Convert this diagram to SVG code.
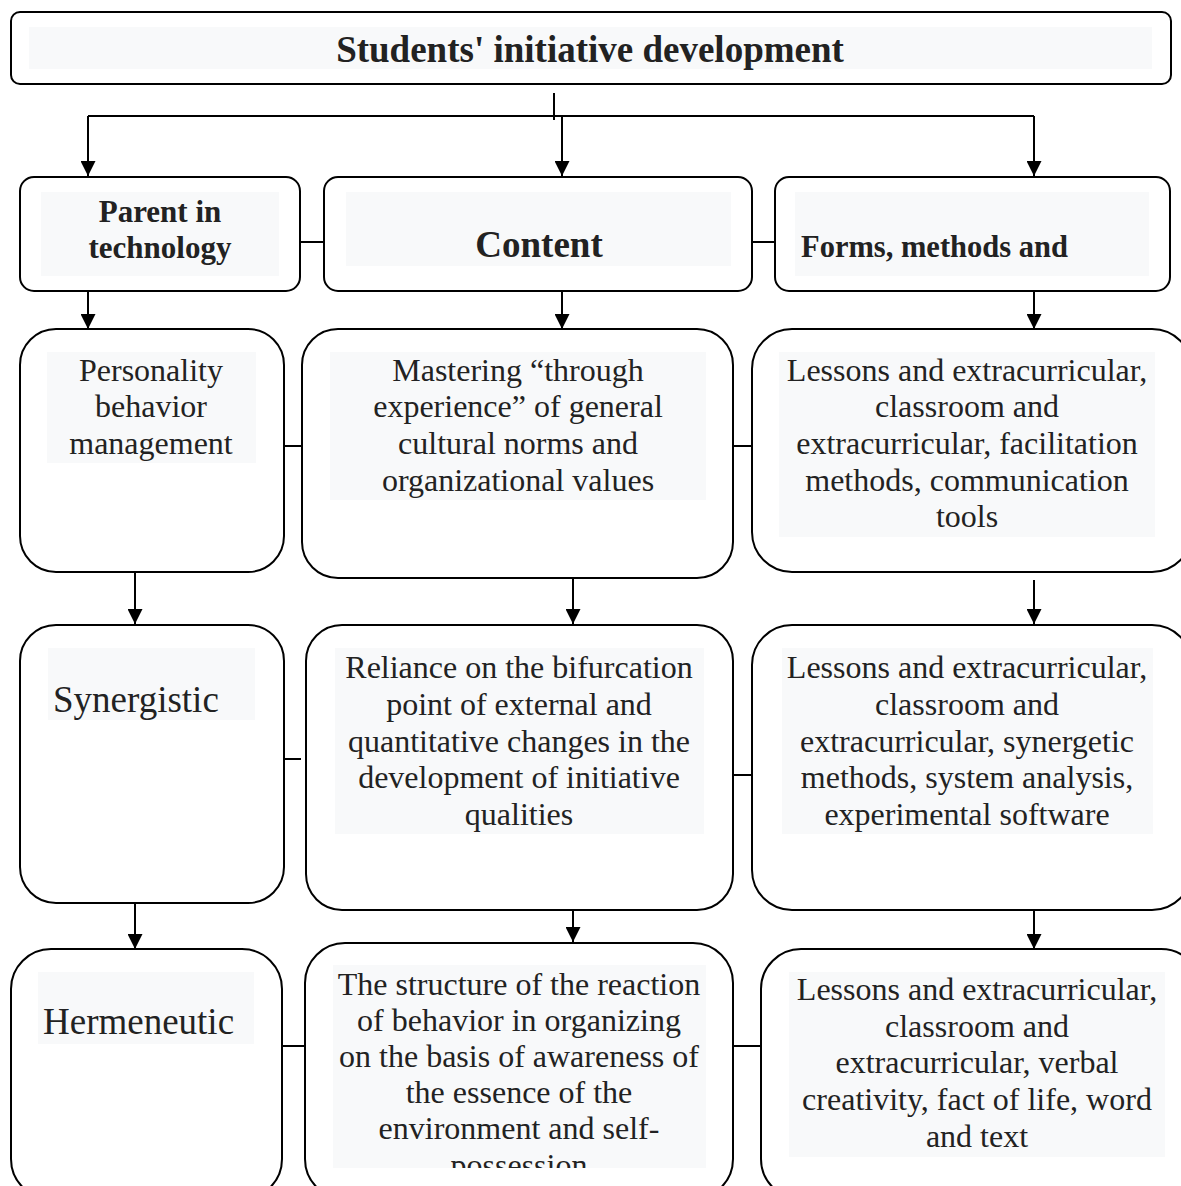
<svg xmlns="http://www.w3.org/2000/svg" width="1181" height="1186" viewBox="0 0 1181 1186">
<style>
.box{fill:#fff;stroke:#000;stroke-width:2}
.hl{fill:#f8f9fa}
.t{font-family:"Liberation Serif","Times New Roman",serif;fill:#222}
.r{font-size:32px}
.b{font-weight:bold}
.c{text-anchor:middle}
.ln{stroke:#000;stroke-width:2;fill:none}
</style>
<defs>
<marker id="ah" markerUnits="userSpaceOnUse" markerWidth="15" markerHeight="15" refX="15" refY="7.5" orient="auto">
<path d="M0,0 L15,7.5 L0,15 z" fill="#000"/>
</marker>
<clipPath id="clipB4"><rect x="333" y="965" width="373" height="203"/></clipPath>
</defs>
<rect width="1181" height="1186" fill="#fff"/>

<g id="title">
<rect class="box" x="11" y="12" width="1160" height="72" rx="9"/>
<rect class="hl" x="29" y="27" width="1123" height="42"/>
<text class="t b c" x="590" y="62" font-size="37">Students' initiative development</text>
</g>

<g id="connectors">
<line class="ln" x1="554" y1="93" x2="554" y2="120"/>
<polyline class="ln" points="88,116 1034,116"/>
<line class="ln" x1="88" y1="116" x2="88" y2="176" marker-end="url(#ah)"/>
<line class="ln" x1="562" y1="116" x2="562" y2="176" marker-end="url(#ah)"/>
<line class="ln" x1="1034" y1="116" x2="1034" y2="176" marker-end="url(#ah)"/>
<line class="ln" x1="300" y1="242" x2="324" y2="242"/>
<line class="ln" x1="752" y1="242" x2="775" y2="242"/>
<line class="ln" x1="88" y1="291" x2="88" y2="329" marker-end="url(#ah)"/>
<line class="ln" x1="562" y1="291" x2="562" y2="329" marker-end="url(#ah)"/>
<line class="ln" x1="1034" y1="291" x2="1034" y2="329" marker-end="url(#ah)"/>
<line class="ln" x1="282" y1="446" x2="302" y2="446"/>
<line class="ln" x1="733" y1="446" x2="752" y2="446"/>
<line class="ln" x1="135" y1="570" x2="135" y2="624" marker-end="url(#ah)"/>
<line class="ln" x1="573" y1="578" x2="573" y2="624" marker-end="url(#ah)"/>
<line class="ln" x1="1034" y1="580" x2="1034" y2="624" marker-end="url(#ah)"/>
<line class="ln" x1="279" y1="759" x2="301" y2="759"/>
<line class="ln" x1="733" y1="775" x2="752" y2="775"/>
<line class="ln" x1="135" y1="903" x2="135" y2="949" marker-end="url(#ah)"/>
<line class="ln" x1="573" y1="910" x2="573" y2="942" marker-end="url(#ah)"/>
<line class="ln" x1="1034" y1="910" x2="1034" y2="949" marker-end="url(#ah)"/>
<line class="ln" x1="282" y1="1046" x2="305" y2="1046"/>
<line class="ln" x1="733" y1="1046" x2="761" y2="1046"/>
</g>

<g id="n-parent">
<rect class="box" x="20" y="177" width="280" height="114" rx="14"/>
<rect class="hl" x="41" y="192" width="238" height="84"/>
<text class="t b c" font-size="31" x="160" y="222">Parent in</text>
<text class="t b c" font-size="31" x="160" y="258">technology</text>
</g>
<g id="n-content">
<rect class="box" x="324" y="177" width="428" height="114" rx="14"/>
<rect class="hl" x="346" y="192" width="385" height="74"/>
<text class="t b c" font-size="37" x="539" y="257">Content</text>
</g>
<g id="n-forms">
<rect class="box" x="775" y="177" width="395" height="114" rx="14"/>
<rect class="hl" x="795" y="192" width="354" height="84"/>
<text class="t b" font-size="30.5" x="801" y="257">Forms, methods and</text>
</g>

<g id="n-personality">
<rect class="box" x="20" y="329" width="264" height="243" rx="36"/>
<rect class="hl" x="47" y="352" width="209" height="111"/>
<text class="t r c" x="151" y="381">Personality</text>
<text class="t r c" x="151" y="417">behavior</text>
<text class="t r c" x="151" y="454">management</text>
</g>
<g id="n-mastering">
<rect class="box" x="302" y="329" width="431" height="249" rx="36"/>
<rect class="hl" x="330" y="352" width="376" height="148"/>
<text class="t r c" x="518" y="381">Mastering “through</text>
<text class="t r c" x="518" y="417">experience” of general</text>
<text class="t r c" x="518" y="454">cultural norms and</text>
<text class="t r c" x="518" y="491">organizational values</text>
</g>
<g id="n-lessons1">
<rect class="box" x="752" y="329" width="440" height="243" rx="40"/>
<rect class="hl" x="779" y="352" width="376" height="185"/>
<text class="t r c" x="967" y="381">Lessons and extracurricular,</text>
<text class="t r c" x="967" y="417">classroom and</text>
<text class="t r c" x="967" y="454">extracurricular, facilitation</text>
<text class="t r c" x="967" y="491">methods, communication</text>
<text class="t r c" x="967" y="527">tools</text>
</g>

<g id="n-synergistic">
<rect class="box" x="20" y="625" width="264" height="278" rx="36"/>
<rect class="hl" x="48" y="648" width="207" height="72"/>
<text class="t" font-size="37" x="53" y="712">Synergistic</text>
</g>
<g id="n-reliance">
<rect class="box" x="306" y="625" width="427" height="285" rx="36"/>
<rect class="hl" x="335" y="648" width="369" height="186"/>
<text class="t r c" x="519" y="678">Reliance on the bifurcation</text>
<text class="t r c" x="519" y="715">point of external and</text>
<text class="t r c" x="519" y="752">quantitative changes in the</text>
<text class="t r c" x="519" y="788">development of initiative</text>
<text class="t r c" x="519" y="825">qualities</text>
</g>
<g id="n-lessons2">
<rect class="box" x="752" y="625" width="440" height="285" rx="40"/>
<rect class="hl" x="782" y="648" width="371" height="186"/>
<text class="t r c" x="967" y="678">Lessons and extracurricular,</text>
<text class="t r c" x="967" y="715">classroom and</text>
<text class="t r c" x="967" y="752">extracurricular, synergetic</text>
<text class="t r c" x="967" y="788">methods, system analysis,</text>
<text class="t r c" x="967" y="825">experimental software</text>
</g>

<g id="n-hermeneutic">
<rect class="box" x="11" y="949" width="271" height="250" rx="40"/>
<rect class="hl" x="38" y="972" width="216" height="72"/>
<text class="t" font-size="37" x="43" y="1034">Hermeneutic</text>
</g>
<g id="n-structure">
<rect class="box" x="305" y="943" width="428" height="256" rx="40"/>
<rect class="hl" x="333" y="965" width="373" height="203"/>
<g clip-path="url(#clipB4)">
<text class="t r c" x="519" y="995">The structure of the reaction</text>
<text class="t r c" x="519" y="1031">of behavior in organizing</text>
<text class="t r c" x="519" y="1067">on the basis of awareness of</text>
<text class="t r c" x="519" y="1103">the essence of the</text>
<text class="t r c" x="519" y="1139">environment and self-</text>
<text class="t r c" x="519" y="1176">possession</text>
</g>
</g>
<g id="n-lessons3">
<rect class="box" x="761" y="949" width="440" height="250" rx="40"/>
<rect class="hl" x="789" y="972" width="376" height="185"/>
<text class="t r c" x="977" y="1000">Lessons and extracurricular,</text>
<text class="t r c" x="977" y="1037">classroom and</text>
<text class="t r c" x="977" y="1073">extracurricular, verbal</text>
<text class="t r c" x="977" y="1110">creativity, fact of life, word</text>
<text class="t r c" x="977" y="1147">and text</text>
</g>
</svg>
